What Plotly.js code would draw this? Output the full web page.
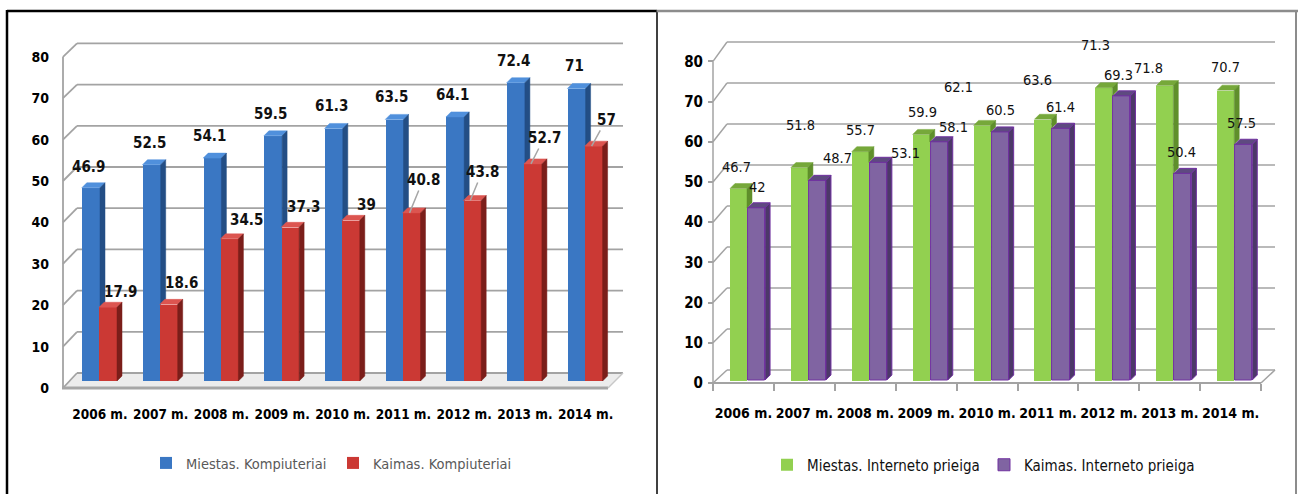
<!DOCTYPE html>
<html><head><meta charset="utf-8">
<script src="https://cdn.plot.ly/plotly-3.0.1.min.js"></script>
<style>html,body{margin:0;padding:0;background:#fff;}#chart{width:1298px;height:494px;}</style>
</head><body><div id="chart"></div>
<script>
// ---------- data ----------
const categories = ['2006 m.','2007 m.','2008 m.','2009 m.','2010 m.','2011 m.','2012 m.','2013 m.','2014 m.'];
const miestasKompiuteriai = [46.9, 52.5, 54.1, 59.5, 61.3, 63.5, 64.1, 72.4, 71];
const kaimasKompiuteriai  = [17.9, 18.6, 34.5, 37.3, 39, 40.8, 43.8, 52.7, 57];
const miestasInternetas   = [46.7, 51.8, 55.7, 59.9, 62.1, 63.6, 71.3, 71.8, 70.7];
const kaimasInternetas    = [42, 48.7, 53.1, 58.1, 60.5, 61.4, 69.3, 50.4, 57.5];
const yTickValues = [0, 10, 20, 30, 40, 50, 60, 70, 80];
const seriesNames = ['Miestas. Kompiuteriai', 'Kaimas. Kompiuteriai', 'Miestas. Interneto prieiga', 'Kaimas. Interneto prieiga'];

// ---------- label placement (px offsets, as placed by hand in the original) ----------
const lblMiestasK = {dx:[-2.5,-2.5,-2.5,-2.5,-2.5,-2.5,-2.5,-2.5,-2.5], dy:[21,22,22,22,22,22,22,22,22], leader:[0,0,0,0,0,0,0,0,0]};
const lblKaimasK  = {dx:[12,12.3,16.6,12.9,15.2,11.5,9.8,11.1,12.4], dy:[15.3,21.4,18.9,20.3,15.3,32.9,28.5,25.9,26.2], leader:[0,0,0,0,0,1,1,1,1]};
const lblMiestasI = {dx:[-2.5,0.6,-0.3,0.8,-24,-6,-8,-16,-0.7], dy:[21.5,42.6,21.6,22.4,38.4,39.2,42.7,17.6,23.1], leader:[0,0,0,0,0,0,0,0,0]};
const lblKaimasI  = {dx:[0.5,19.6,26.7,13.8,0,-1,-3,-1,-2], dy:[20.8,22.3,9.3,14.8,22,21.3,20.9,21.4,21.3], leader:[0,0,0,0,0,0,0,0,0]};

// ---------- geometry ----------
const W = 1298, H = 494;
const fx = px => px / W;
const fy = py => 1 - py / H;
const FONT = 'DejaVu Sans Condensed, DejaVu Sans, sans-serif';

const GL = {cat0:100, step:60.7, yZero:381, yScale:4.12, ymin:-2, ymax:85,
  front:{x:63, y0:388, s:4.14}, back:{x0:77, x1:623, y0:373, s:4.12},
  depthPx:{dx:5, dy:5}, bars:[{off:-0.30, w:0.30}, {off:-0.015, w:0.295}]};
const GR = {cat0:743.5, step:60.9, yZero:380, yScale:4.1, ymin:-2, ymax:85,
  front:{x:713, y0:383, s:4.02}, back:{x0:727, x1:1275, y0:370, s:4.1},
  depthPx:{dx:5, dy:5}, bars:[{off:-0.222, w:0.28}, {off:0.074, w:0.28}]};

const xIdx = categories.map((_, i) => i);

function xDomain(g){ return [fx(g.cat0 - 0.5*g.step), fx(g.cat0 + 8.5*g.step)]; }
function yDomain(g){ return [fy(g.yZero - g.ymin*g.yScale), fy(g.yZero - g.ymax*g.yScale)]; }
function frontTickPos(g){ return yTickValues.map(v => (g.yZero - (g.front.y0 - g.front.s*v)) / g.yScale); }

// 3D faces (top and side) built from values through the axes
function topFaces(vals, g, b, xa, ya, color, line){
  const dx = g.depthPx.dx / g.step, dy = g.depthPx.dy / g.yScale;
  const X = [], Y = [];
  vals.forEach((v, i) => {
    const l = i + b.off, r = i + b.off + b.w;
    X.push(l, r, r+dx, l+dx, l, null); Y.push(v, v, v+dy, v+dy, v, null);
  });
  return {type:'scatter', x:X, y:Y, xaxis:xa, yaxis:ya, mode:'lines', fill:'toself',
    fillcolor:color, line:{color:line||color, width:line?1:0.5}, hoverinfo:'skip', showlegend:false};
}
function sideFaces(vals, lower, g, b, xa, ya, color, line){
  const dx = g.depthPx.dx / g.step, dy = g.depthPx.dy / g.yScale;
  const X = [], Y = [];
  vals.forEach((v, i) => {
    const r = i + b.off + b.w;
    const lo = lower ? lower[i] : 0;
    X.push(r, r+dx, r+dx, r, r, null); Y.push(lo, lo+dy, v+dy, v, lo, null);
  });
  return {type:'scatter', x:X, y:Y, xaxis:xa, yaxis:ya, mode:'lines', fill:'toself',
    fillcolor:color, line:{color:line||color, width:line?1:0.5}, hoverinfo:'skip', showlegend:false};
}
function barTrace(vals, name, g, b, xa, ya, color, legend, line){
  return {type:'bar', name:name, x:xIdx, y:vals, width:b.w, offset:b.off, xaxis:xa, yaxis:ya,
    marker:{color:color, line:{color:line||color, width:line?1:0}}, legend:legend,
    hovertemplate:'%{y}<extra>'+name+'</extra>'};
}

const traces = [
  barTrace(miestasKompiuteriai, seriesNames[0], GL, GL.bars[0], 'x', 'y', '#3a77c3', 'legend'),
  barTrace(kaimasKompiuteriai,  seriesNames[1], GL, GL.bars[1], 'x', 'y', '#cb3934', 'legend'),
  barTrace(miestasInternetas,   seriesNames[2], GR, GR.bars[0], 'x2', 'y2', '#92d050', 'legend2'),
  barTrace(kaimasInternetas,    seriesNames[3], GR, GR.bars[1], 'x2', 'y2', '#8064a2', 'legend2', '#7030a0'),
  topFaces(miestasKompiuteriai, GL, GL.bars[0], 'x', 'y', '#5090dc'),
  sideFaces(miestasKompiuteriai, kaimasKompiuteriai, GL, GL.bars[0], 'x', 'y', '#234e85'),
  topFaces(kaimasKompiuteriai, GL, GL.bars[1], 'x', 'y', '#dc5550'),
  sideFaces(kaimasKompiuteriai, null, GL, GL.bars[1], 'x', 'y', '#7b1e1a'),
  topFaces(miestasInternetas, GR, GR.bars[0], 'x2', 'y2', '#76a83a'),
  sideFaces(miestasInternetas, kaimasInternetas, GR, GR.bars[0], 'x2', 'y2', '#5f8f2b'),
  topFaces(kaimasInternetas, GR, GR.bars[1], 'x2', 'y2', '#5e4a80', '#7030a0'),
  sideFaces(kaimasInternetas, null, GR, GR.bars[1], 'x2', 'y2', '#4c3868', '#7030a0')
];

// ---------- decoration shapes (wall grid, floor, frames) ----------
const shapes = [];
function line(x0, y0, x1, y1, color, width, layer){
  shapes.push({type:'line', xref:'paper', yref:'paper', x0:fx(x0), y0:fy(y0), x1:fx(x1), y1:fy(y1),
    line:{color:color, width:width}, layer:layer||'below'});
}
function wall(g, gridColor, gw){
  yTickValues.forEach(v => {
    const by = g.back.y0 - g.back.s*v, fyv = g.front.y0 - g.front.s*v;
    line(g.back.x0, by, g.back.x1, by, gridColor, gw);
    line(g.front.x, fyv, g.back.x0, by, gridColor, gw);
  });
  const top = g.front.y0 - g.front.s*yTickValues[yTickValues.length-1];
  line(g.front.x, top, g.front.x, g.front.y0, gridColor, gw);
}
// left floor
shapes.push({type:'path', xref:'paper', yref:'paper', layer:'below',
  path:`M${fx(62)},${fy(388)} L${fx(608)},${fy(388)} L${fx(623)},${fy(373)} L${fx(77)},${fy(373)} Z`,
  fillcolor:'#ececec', line:{width:0}});
wall(GL, '#a3a3a3', 1.8);
line(62, 388, 608, 388, '#a6a6a6', 3);
line(608, 388, 623, 373, '#c8c8c8', 1.5);
// right wall
wall(GR, '#a3a3a3', 1.5);
line(1261, 383, 1275, 370, '#a3a3a3', 1.5);
// panel frames
line(7, 11, 657, 11, '#000000', 2.5, 'above');
line(7, 10, 7, 494, '#000000', 2.5, 'above');
line(657, 10, 657, 494, '#404040', 2, 'above');
line(657, 11, 1298, 11, '#8c8c8c', 2.5, 'above');
line(1296, 10, 1296, 494, '#8c8c8c', 2, 'above');

// ---------- data labels ----------
const annotations = [];
function labels(vals, g, b, xa, ya, spec, bold){
  vals.forEach((v, i) => {
    const xc = i + b.off + b.w/2;
    const a = {xref:xa, yref:ya, x:xc, y:v, text:String(v),
      font:{family:FONT, size:bold?15:14.5, color:'#111', weight:bold?'bold':'normal'}};
    if (spec.leader[i]) {
      Object.assign(a, {showarrow:true, arrowhead:0, arrowwidth:1.5, arrowcolor:'#a6a6a6',
        ax:spec.dx[i]+2, ay:-spec.dy[i], xshift:-2, standoff:0});
    } else {
      Object.assign(a, {showarrow:false, xshift:spec.dx[i], yshift:spec.dy[i]});
    }
    annotations.push(a);
  });
}
labels(miestasKompiuteriai, GL, GL.bars[0], 'x', 'y', lblMiestasK, true);
labels(kaimasKompiuteriai,  GL, GL.bars[1], 'x', 'y', lblKaimasK, true);
labels(kaimasInternetas,    GR, GR.bars[1], 'x2', 'y2', lblKaimasI, false);
labels(miestasInternetas,   GR, GR.bars[0], 'x2', 'y2', lblMiestasI, false);

function xAxis(g, linePos, fontSize, extra){
  return Object.assign({domain:xDomain(g), range:[-0.5, 8.5], anchor:'free', position:fy(linePos),
    tickmode:'array', tickvals:xIdx, ticktext:categories, ticks:'', showgrid:false, zeroline:false,
    showline:false, fixedrange:true,
    tickfont:{family:FONT, size:fontSize, color:'#000', weight:'bold'}}, extra||{});
}
function yAxis(g, pos, fontSize, extra){
  return Object.assign({domain:yDomain(g), range:[g.ymin, g.ymax], anchor:'free', position:fx(pos),
    tickmode:'array', tickvals:frontTickPos(g), ticktext:yTickValues.map(String), showgrid:false,
    zeroline:false, showline:false, fixedrange:true,
    tickfont:{family:FONT, size:fontSize, color:'#000', weight:'bold'}}, extra||{});
}

const layout = {
  width:W, height:H, margin:{l:0, r:0, t:0, b:0}, autosize:false,
  paper_bgcolor:'#ffffff', plot_bgcolor:'rgba(0,0,0,0)', barmode:'overlay', bargap:0,
  showlegend:true, hovermode:'closest',
  xaxis: xAxis(GL, 388, 13.5, {ticklabelstandoff:16}),
  yaxis: yAxis(GL, 63, 14, {ticks:'', ticklabelstandoff:14}),
  xaxis2: xAxis(GR, 383, 14, {anchor:'free', showline:true, linecolor:'#a3a3a3', linewidth:1.5,
    ticklabelstandoff:17,
    minor:{tickmode:'linear', tick0:-0.5, dtick:1, ticks:'outside', ticklen:7, tickwidth:1.5, tickcolor:'#a3a3a3'}}),
  yaxis2: yAxis(GR, 713, 15, {ticks:'outside', ticklen:5, tickwidth:1.5, tickcolor:'#a3a3a3', ticklabelstandoff:2}),
  legend:{orientation:'h', x:fx(146), y:fy(463), xanchor:'left', yanchor:'middle', bgcolor:'rgba(0,0,0,0)',
    font:{family:FONT, size:14.5, color:'#595959'}, entrywidth:142, traceorder:'normal'},
  legend2:{orientation:'h', x:fx(767), y:fy(465), xanchor:'left', yanchor:'middle', bgcolor:'rgba(0,0,0,0)',
    font:{family:FONT, size:15, color:'#111'}, entrywidth:172, traceorder:'normal'},
  shapes:shapes, annotations:annotations
};

Plotly.newPlot('chart', traces, layout, {displayModeBar:false, staticPlot:false});
</script></body></html>
